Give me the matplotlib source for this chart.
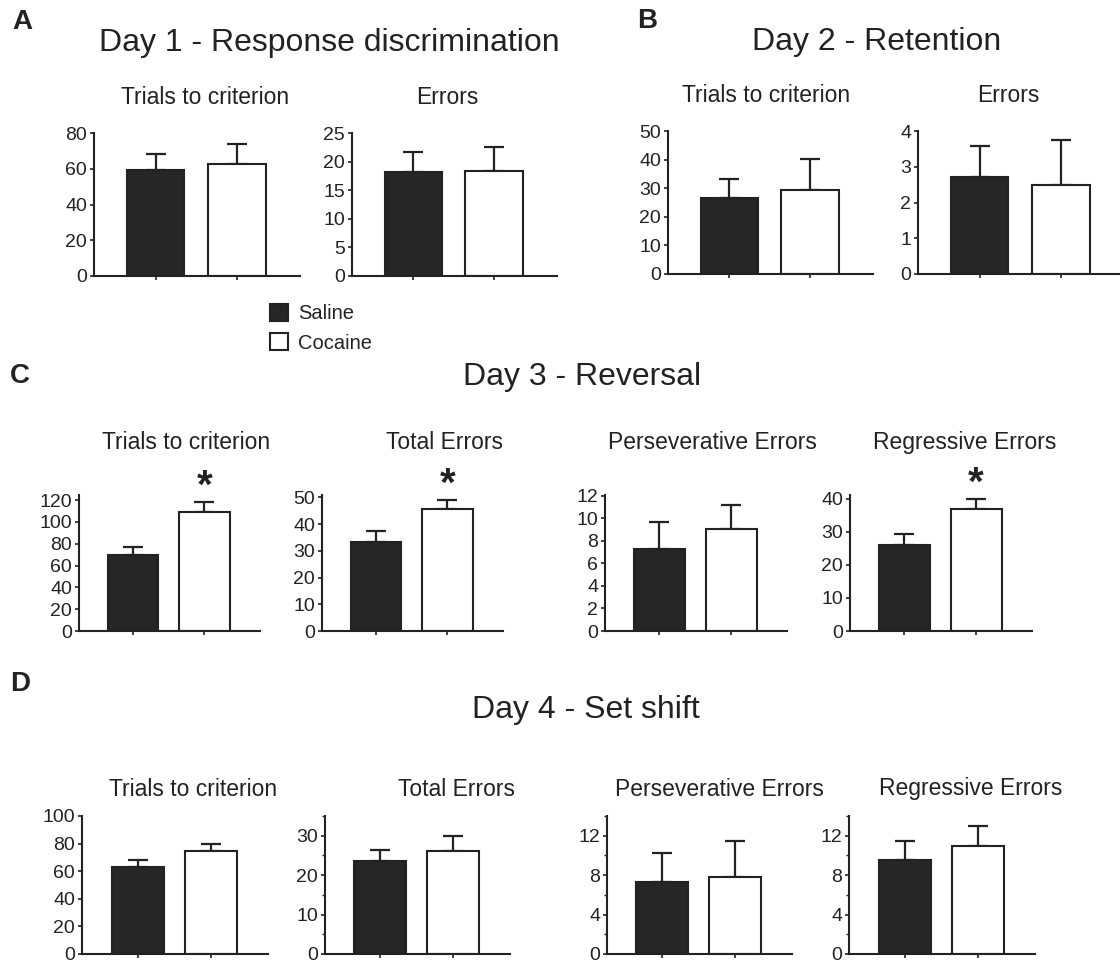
import matplotlib
matplotlib.use("Agg")
import matplotlib.pyplot as plt
from matplotlib.patches import Patch
from matplotlib.ticker import MultipleLocator

plt.rcParams["font.family"] = ["Liberation Sans", "DejaVu Sans"]

INK = "#222222"
SALINE_FILL = "#262626"
COCAINE_FILL = "#ffffff"

groups = ["Saline", "Cocaine"]

# Group means and SEM (saline, cocaine)
day1_trials = [59.4, 62.4];   day1_trials_sem = [8.8, 11.4]
day1_errors = [18.1, 18.4];   day1_errors_sem = [3.5, 4.2]
day2_trials = [26.7, 29.4];   day2_trials_sem = [6.5, 10.7]
day2_errors = [2.72, 2.49];   day2_errors_sem = [0.85, 1.25]
day3_trials = [69.6, 109.0];  day3_trials_sem = [7.1, 8.9]
day3_total = [33.2, 45.7];    day3_total_sem = [4.2, 3.2]
day3_persev = [7.27, 9.02];   day3_persev_sem = [2.37, 2.18]
day3_regress = [26.1, 36.9];  day3_regress_sem = [3.2, 3.1]
day4_trials = [63.3, 74.6];   day4_trials_sem = [4.8, 5.3]
day4_total = [23.7, 26.1];    day4_total_sem = [2.6, 3.8]
day4_persev = [7.3, 7.83];    day4_persev_sem = [2.9, 3.6]
day4_regress = [9.52, 10.96]; day4_regress_sem = [1.94, 2.04]

# Significant cocaine vs saline differences (Day 3)
day3_sig = {"trials": True, "total": True, "persev": False, "regress": True}

TITLE_FS = 23
SUB_FS = 16.5
TICK_FS = 14
LETTER_FS = 20

W, H = 1120, 964
fig = plt.figure(figsize=(W / 100, H / 100), dpi=100)


def add_ax(x0, x1, ytop, ybot):
    return fig.add_axes([x0 / W, 1 - ybot / H, (x1 - x0) / W, (ybot - ytop) / H])


def fig_text(x, y, s, **kw):
    fig.text(x / W, 1 - y / H, s, color=INK, ha="center", va="center", **kw)


def bar_panel(ax, means, sems, ymax, major, minor=None, ytop=None, star=False):
    xs = [0, 1]
    ax.bar(xs, means, width=0.71, color=[SALINE_FILL, COCAINE_FILL],
           edgecolor=INK, linewidth=1.5, zorder=2)
    ax.errorbar(xs, means, yerr=[[0, 0], sems], fmt="none", ecolor=INK,
                elinewidth=1.6, capsize=7, capthick=1.6, zorder=1)
    ax.set_xlim(-0.76, 1.78)
    ax.set_ylim(0, ytop if ytop is not None else ymax)
    ax.yaxis.set_major_locator(MultipleLocator(major))
    if minor:
        ax.yaxis.set_minor_locator(MultipleLocator(minor))
    ax.set_xticks(xs)
    ax.set_xticklabels([])
    for side in ("top", "right"):
        ax.spines[side].set_visible(False)
    for side in ("left", "bottom"):
        ax.spines[side].set_linewidth(1.5)
        ax.spines[side].set_color(INK)
    ax.tick_params(axis="y", which="major", length=3, width=1.2, pad=2,
                   labelsize=TICK_FS, colors=INK)
    ax.tick_params(axis="y", which="minor", length=2, width=1.0, colors=INK)
    ax.tick_params(axis="x", length=3, width=1.2, colors=INK)
    ax.set_facecolor("none")
    if star:
        ax.annotate("*", xy=(1, means[1] + sems[1]), xytext=(0, 3),
                    textcoords="offset points", ha="center", va="baseline",
                    fontsize=29, fontweight="bold", color=INK,
                    annotation_clip=False)


# ---- A: Day 1 ----
fig_text(22, 22, "A", fontsize=LETTER_FS, fontweight="bold")
fig_text(329, 43, "Day 1 - Response discrimination", fontsize=TITLE_FS)
fig_text(205, 97, "Trials to criterion", fontsize=SUB_FS)
fig_text(447, 97, "Errors", fontsize=SUB_FS)
bar_panel(add_ax(94, 300, 133, 276), day1_trials, day1_trials_sem, 80, 20)
bar_panel(add_ax(352, 557, 133, 276), day1_errors, day1_errors_sem, 25, 5)

# ---- B: Day 2 ----
fig_text(647, 21, "B", fontsize=LETTER_FS, fontweight="bold")
fig_text(877, 42, "Day 2 - Retention", fontsize=TITLE_FS)
fig_text(766, 95, "Trials to criterion", fontsize=SUB_FS)
fig_text(1008, 95, "Errors", fontsize=SUB_FS)
bar_panel(add_ax(668, 873, 131, 274), day2_trials, day2_trials_sem, 50, 10)
bar_panel(add_ax(918, 1124, 131, 274), day2_errors, day2_errors_sem, 4, 1)

# ---- legend ----
handles = [Patch(facecolor=SALINE_FILL, edgecolor=INK, linewidth=1.5),
           Patch(facecolor=COCAINE_FILL, edgecolor=INK, linewidth=1.5)]
fig.legend(handles, groups, loc="upper left",
           bbox_to_anchor=(262 / W, 1 - 296 / H), frameon=False,
           fontsize=14.5, handlelength=0.9, handleheight=0.9,
           handletextpad=0.5, labelspacing=0.5, borderaxespad=0,
           labelcolor=INK)

# ---- C: Day 3 ----
fig_text(20, 376, "C", fontsize=LETTER_FS, fontweight="bold")
fig_text(582, 377, "Day 3 - Reversal", fontsize=TITLE_FS)
fig_text(186, 443, "Trials to criterion", fontsize=SUB_FS)
fig_text(445, 443, "Total Errors", fontsize=SUB_FS)
fig_text(712, 443, "Perseverative Errors", fontsize=SUB_FS)
fig_text(965, 443, "Regressive Errors", fontsize=SUB_FS)
bar_panel(add_ax(79, 260, 495, 631), day3_trials, day3_trials_sem, 120, 20,
          ytop=124.6, star=day3_sig["trials"])
bar_panel(add_ax(322, 503, 495, 631), day3_total, day3_total_sem, 50, 10,
          ytop=50.9, star=day3_sig["total"])
bar_panel(add_ax(605, 787, 495, 631), day3_persev, day3_persev_sem, 12, 2,
          ytop=12.06, star=day3_sig["persev"])
bar_panel(add_ax(850, 1032, 495, 631), day3_regress, day3_regress_sem, 40, 10,
          ytop=41.2, star=day3_sig["regress"])

# ---- D: Day 4 ----
fig_text(20, 684, "D", fontsize=LETTER_FS, fontweight="bold")
fig_text(586, 710, "Day 4 - Set shift", fontsize=TITLE_FS)
fig_text(193, 789, "Trials to criterion", fontsize=SUB_FS)
fig_text(456, 789, "Total Errors", fontsize=SUB_FS)
fig_text(719, 789, "Perseverative Errors", fontsize=SUB_FS)
fig_text(971, 789, "Regressive Errors", fontsize=SUB_FS)
bar_panel(add_ax(82, 268, 816, 954), day4_trials, day4_trials_sem, 100, 20)
bar_panel(add_ax(325, 510, 816, 954), day4_total, day4_total_sem, 35, 10,
          minor=5)
bar_panel(add_ax(607, 792, 816, 954), day4_persev, day4_persev_sem, 14, 4,
          minor=2)
bar_panel(add_ax(849, 1035, 816, 954), day4_regress, day4_regress_sem, 14, 4,
          minor=2)

fig.savefig("out.png", dpi=100, facecolor="white")
